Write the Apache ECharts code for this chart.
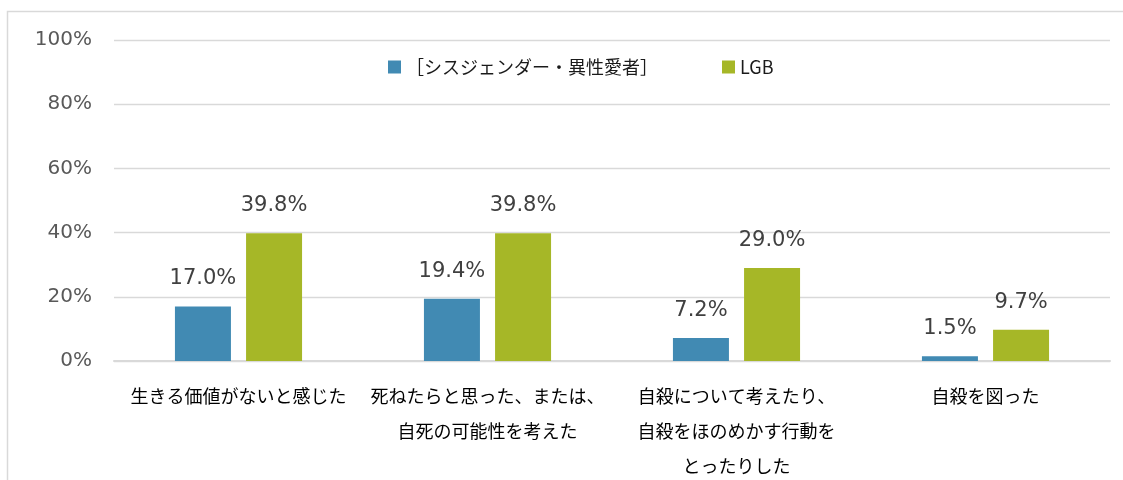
<!DOCTYPE html>
<html>
<head>
<meta charset="utf-8">
<script src="https://cdn.jsdelivr.net/npm/echarts@6/dist/echarts.min.js"></script>
<style>
html,body{margin:0;padding:0;background:#fff;}
#c{width:1123px;height:480px;}
</style>
</head>
<body>
<div id="c"></div>
<script>
const categories = [
  '生きる価値がないと感じた',
  '死ねたらと思った、または、\n自死の可能性を考えた',
  '自殺について考えたり、\n自殺をほのめかす行動を\nとったりした',
  '自殺を図った'
];
const seriesNames = ['［シスジェンダー・異性愛者］', 'LGB'];
const cisHetero = [17.0, 19.4, 7.2, 1.5];
const lgb = [39.8, 39.8, 29.0, 9.7];
const yTicks = [0, 20, 40, 60, 80, 100];

const chart = echarts.init(document.getElementById('c'), null, {renderer: 'canvas'});
const numFont = 'DejaVu Sans, Verdana, sans-serif';
const jpFont = '"Noto Sans CJK JP", sans-serif';

function barSeries(name, data, color) {
  return {
    name: name,
    type: 'bar',
    data: data,
    barWidth: 56,
    barGap: '27%',
    itemStyle: {color: color},
    label: {
      show: true,
      position: 'top',
      distance: 17,
      fontFamily: numFont,
      fontSize: 21,
      color: '#404040',
      formatter: p => p.value.toFixed(1) + '%'
    }
  };
}

chart.setOption({
  animation: false,
  backgroundColor: '#fff',
  graphic: [{
    type: 'rect',
    shape: {x: 7.5, y: 11.5, width: 1200, height: 520},
    style: {fill: 'none', stroke: '#d9d9d9', lineWidth: 1.5},
    silent: true,
    z: -10
  }],
  legend: {
    left: 383,
    top: 53,
    icon: 'rect',
    itemWidth: 13,
    itemHeight: 13,
    itemGap: 64,
    textStyle: {fontFamily: jpFont, fontSize: 18, color: '#1a1a1a'},
    data: seriesNames
  },
  grid: {left: 114, right: 13, top: 40, bottom: 119, containLabel: false, outerBoundsMode: 'none'},
  xAxis: {
    type: 'category',
    data: categories,
    axisTick: {show: false},
    axisLine: {lineStyle: {color: '#d9d9d9', width: 2}},
    axisLabel: {
      interval: 0,
      fontFamily: jpFont,
      fontSize: 18,
      lineHeight: 35,
      margin: 18,
      color: '#000'
    }
  },
  yAxis: {
    type: 'value',
    min: yTicks[0],
    max: yTicks[yTicks.length - 1],
    interval: 20,
    axisLine: {show: false},
    axisTick: {show: false},
    splitLine: {lineStyle: {color: '#d9d9d9', width: 1.3}},
    axisLabel: {
      fontFamily: numFont,
      fontSize: 20,
      color: '#595959',
      margin: 22,
      formatter: '{value}%'
    }
  },
  series: [
    barSeries(seriesNames[0], cisHetero, '#418AB3'),
    barSeries(seriesNames[1], lgb, '#A6B727')
  ]
});
</script>
</body>
</html>
